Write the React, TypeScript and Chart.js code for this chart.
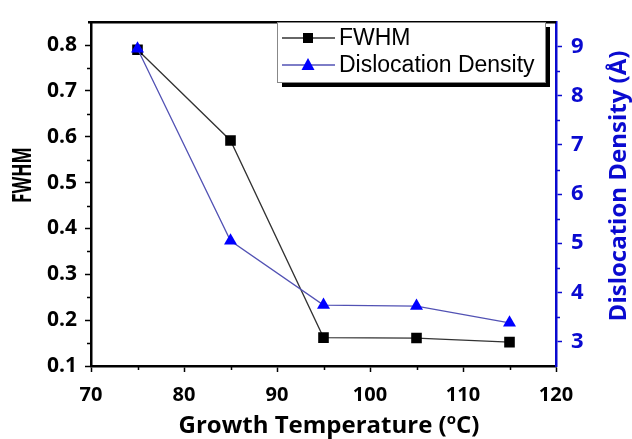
import React, { useEffect, useRef } from 'react';
import { Chart, registerables } from 'chart.js';

Chart.register(...registerables);

// ---- data ----
const temperatures = [75, 85, 95, 105, 115];
const fwhmValues = [0.79, 0.592, 0.162, 0.161, 0.152];
const dislocationValues = [8.96, 5.05, 3.74, 3.72, 3.38];

const xTicks = [70, 80, 90, 100, 110, 120];
const xMinorTicks = [75, 85, 95, 105, 115];
const leftTicks = [0.1, 0.2, 0.3, 0.4, 0.5, 0.6, 0.7, 0.8];
const leftMinorTicks = [0.15, 0.25, 0.35, 0.45, 0.55, 0.65, 0.75];
const rightTicks = [3, 4, 5, 6, 7, 8, 9];
const rightMinorTicks = [3.5, 4.5, 5.5, 6.5, 7.5, 8.5];

const xTitle = 'Growth Temperature (';
const xTitleSup = 'o';
const xTitleEnd = 'C)';
const leftTitle = 'FWHM';
const rightTitle = 'Dislocation Density (Å)';
const seriesNames = ['FWHM', 'Dislocation Density'];

const BLUE_AXIS = '#0a0ad0';
const BLUE_LINE = '#5252b4';
const BLUE_MARK = '#0000ff';
const BLACK_LINE = '#333333';
const FONT = "'Open Sans', sans-serif";

const decorPlugin = {
  id: 'decor',
  afterDraw(chart: any) {
    const ctx = chart.ctx as CanvasRenderingContext2D;
    const area = chart.chartArea;
    const xs = chart.scales.x;
    const ys = chart.scales.y;
    const y1 = chart.scales.y1;
    ctx.save();
    // top border
    ctx.strokeStyle = '#000';
    ctx.lineWidth = 2.5;
    ctx.beginPath();
    ctx.moveTo(area.left - 3, area.top);
    ctx.lineTo(area.right, area.top);
    ctx.stroke();

    // minor ticks
    ctx.lineWidth = 1.5;
    ctx.strokeStyle = '#000';
    ctx.beginPath();
    xMinorTicks.forEach((v) => {
      const px = Math.round(xs.getPixelForValue(v)) + 0.5;
      ctx.moveTo(px, area.bottom);
      ctx.lineTo(px, area.bottom + 4);
    });
    leftMinorTicks.forEach((v) => {
      const py = Math.round(ys.getPixelForValue(v)) + 0.5;
      ctx.moveTo(area.left, py);
      ctx.lineTo(area.left - 4, py);
    });
    ctx.stroke();
    ctx.strokeStyle = BLUE_AXIS;
    ctx.beginPath();
    rightMinorTicks.forEach((v) => {
      const py = Math.round(y1.getPixelForValue(v)) + 0.5;
      ctx.moveTo(area.right, py);
      ctx.lineTo(area.right + 4, py);
    });
    ctx.stroke();

    // x axis title with superscript o
    ctx.fillStyle = '#000';
    ctx.textBaseline = 'alphabetic';
    ctx.font = `bold 24px ${FONT}`;
    const w1 = ctx.measureText(xTitle).width;
    ctx.font = `bold 15px ${FONT}`;
    const w2 = ctx.measureText(xTitleSup).width;
    ctx.font = `bold 24px ${FONT}`;
    const w3 = ctx.measureText(xTitleEnd).width;
    const total = w1 + w2 + w3;
    let tx = 329 - total / 2;
    const base = 433;
    ctx.textAlign = 'left';
    ctx.fillText(xTitle, tx, base);
    tx += w1;
    ctx.font = `bold 15px ${FONT}`;
    ctx.fillText(xTitleSup, tx, base - 9);
    tx += w2;
    ctx.font = `bold 24px ${FONT}`;
    ctx.fillText(xTitleEnd, tx, base);

    // left title (narrow bold letters)
    ctx.save();
    ctx.translate(22, 175);
    ctx.rotate(-Math.PI / 2);
    ctx.font = `bold 27px ${FONT}`;
    const lw0 = ctx.measureText(leftTitle).width;
    ctx.scale(56 / lw0, 1);
    ctx.textAlign = 'center';
    ctx.textBaseline = 'middle';
    ctx.fillStyle = '#000';
    ctx.fillText(leftTitle, 0, 1);
    ctx.restore();

    // right title
    ctx.save();
    ctx.translate(619, 186);
    ctx.rotate(-Math.PI / 2);
    ctx.textAlign = 'center';
    ctx.textBaseline = 'middle';
    ctx.font = `bold 24px ${FONT}`;
    ctx.fillStyle = BLUE_AXIS;
    ctx.fillText(rightTitle, 0, 0);
    ctx.restore();

    // legend
    const lx = 277, ly = 22, lw = 268, lh = 60;
    ctx.fillStyle = '#000';
    ctx.fillRect(lx + 5, ly + 5, lw, lh);
    ctx.fillStyle = '#fff';
    ctx.fillRect(lx, ly, lw, lh);
    ctx.strokeStyle = '#888';
    ctx.lineWidth = 1;
    ctx.strokeRect(lx + 0.5, ly + 0.5, lw, lh);

    const rows = [38, 65];
    rows.forEach((ry, i) => {
      ctx.strokeStyle = i === 0 ? BLACK_LINE : BLUE_LINE;
      ctx.lineWidth = 1.3;
      ctx.beginPath();
      ctx.moveTo(282, ry);
      ctx.lineTo(335, ry);
      ctx.stroke();
      if (i === 0) {
        ctx.fillStyle = '#000';
        ctx.fillRect(308 - 5, ry - 5, 10, 10);
      } else {
        ctx.fillStyle = BLUE_MARK;
        ctx.beginPath();
        ctx.moveTo(308, ry - 7);
        ctx.lineTo(308 + 6.5, ry + 5);
        ctx.lineTo(308 - 6.5, ry + 5);
        ctx.closePath();
        ctx.fill();
      }
      ctx.fillStyle = '#000';
      ctx.font = `23px 'Liberation Sans', Arial, sans-serif`;
      ctx.textAlign = 'left';
      ctx.textBaseline = 'middle';
      ctx.fillText(seriesNames[i], 339, ry + 1);
    });
    ctx.restore();
  },
};

export default function App() {
  const canvasRef = useRef<HTMLCanvasElement | null>(null);

  useEffect(() => {
    document.body.style.margin = '0';
    const canvas = canvasRef.current;
    if (!canvas) return;
    const chart = new Chart(canvas, {
      type: 'line',
      data: {
        datasets: [
          {
            label: seriesNames[0],
            data: temperatures.map((t, i) => ({ x: t, y: fwhmValues[i] })),
            yAxisID: 'y',
            borderColor: BLACK_LINE,
            borderWidth: 1.3,
            pointStyle: 'rect',
            pointRadius: 7.5,
            pointBackgroundColor: '#000',
            pointBorderColor: '#000',
            pointBorderWidth: 0,
            order: 1,
          },
          {
            label: seriesNames[1],
            data: temperatures.map((t, i) => ({ x: t, y: dislocationValues[i] })),
            yAxisID: 'y1',
            borderColor: BLUE_LINE,
            borderWidth: 1.3,
            pointStyle: 'triangle',
            pointRadius: 7.5,
            pointBackgroundColor: BLUE_MARK,
            pointBorderColor: BLUE_MARK,
            pointBorderWidth: 0,
            order: 0,
          },
        ],
      },
      options: {
        responsive: false,
        animation: false,
        devicePixelRatio: 1,
        layout: { padding: { top: 14, left: 0, right: 0, bottom: 0 } },
        plugins: {
          legend: { display: false },
          tooltip: { enabled: false },
          title: { display: false },
        },
        scales: {
          x: {
            type: 'linear',
            position: 'bottom',
            min: 70,
            max: 120,
            afterBuildTicks: (s: any) => {
              s.ticks = xTicks.map((v) => ({ value: v }));
            },
            afterFit: (s: any) => {
              s.height = 73;
            },
            grid: {
              drawOnChartArea: false,
              drawTicks: true,
              tickLength: 6,
              tickWidth: 1.5,
              tickColor: '#000',
            },
            border: { color: '#000', width: 2.5 },
            ticks: {
              color: '#000',
              padding: 11,
              maxRotation: 0,
              font: { family: FONT, size: 20, weight: 'bold' },
              callback: (v: any) => String(v),
            },
          },
          y: {
            type: 'linear',
            position: 'left',
            min: 0.1,
            max: 0.85,
            afterBuildTicks: (s: any) => {
              s.ticks = leftTicks.map((v) => ({ value: v }));
            },
            afterFit: (s: any) => {
              s.width = 91;
            },
            grid: {
              drawOnChartArea: false,
              drawTicks: true,
              tickLength: 6,
              tickWidth: 1.5,
              tickColor: '#000',
            },
            border: { color: '#000', width: 2.5 },
            ticks: {
              color: '#000',
              padding: 8,
              font: { family: FONT, size: 21, weight: 'bold' },
              callback: (v: any) => Number(v).toFixed(1),
            },
          },
          y1: {
            type: 'linear',
            position: 'right',
            min: 2.5,
            max: 9.5,
            afterBuildTicks: (s: any) => {
              s.ticks = rightTicks.map((v) => ({ value: v }));
            },
            afterFit: (s: any) => {
              s.width = 76;
            },
            grid: {
              drawOnChartArea: false,
              drawTicks: true,
              tickLength: 6,
              tickWidth: 1.5,
              tickColor: BLUE_AXIS,
            },
            border: { color: BLUE_AXIS, width: 2.5 },
            ticks: {
              color: BLUE_AXIS,
              padding: 9,
              font: { family: FONT, size: 22, weight: 'bold' },
              callback: (v: any) => String(v),
            },
          },
        },
      },
      plugins: [decorPlugin],
    } as any);
    return () => chart.destroy();
  }, []);

  return (
    <div style={{ width: 632, height: 439 }}>
      <canvas ref={canvasRef} width={632} height={439} style={{ display: 'block' }} />
    </div>
  );
}
